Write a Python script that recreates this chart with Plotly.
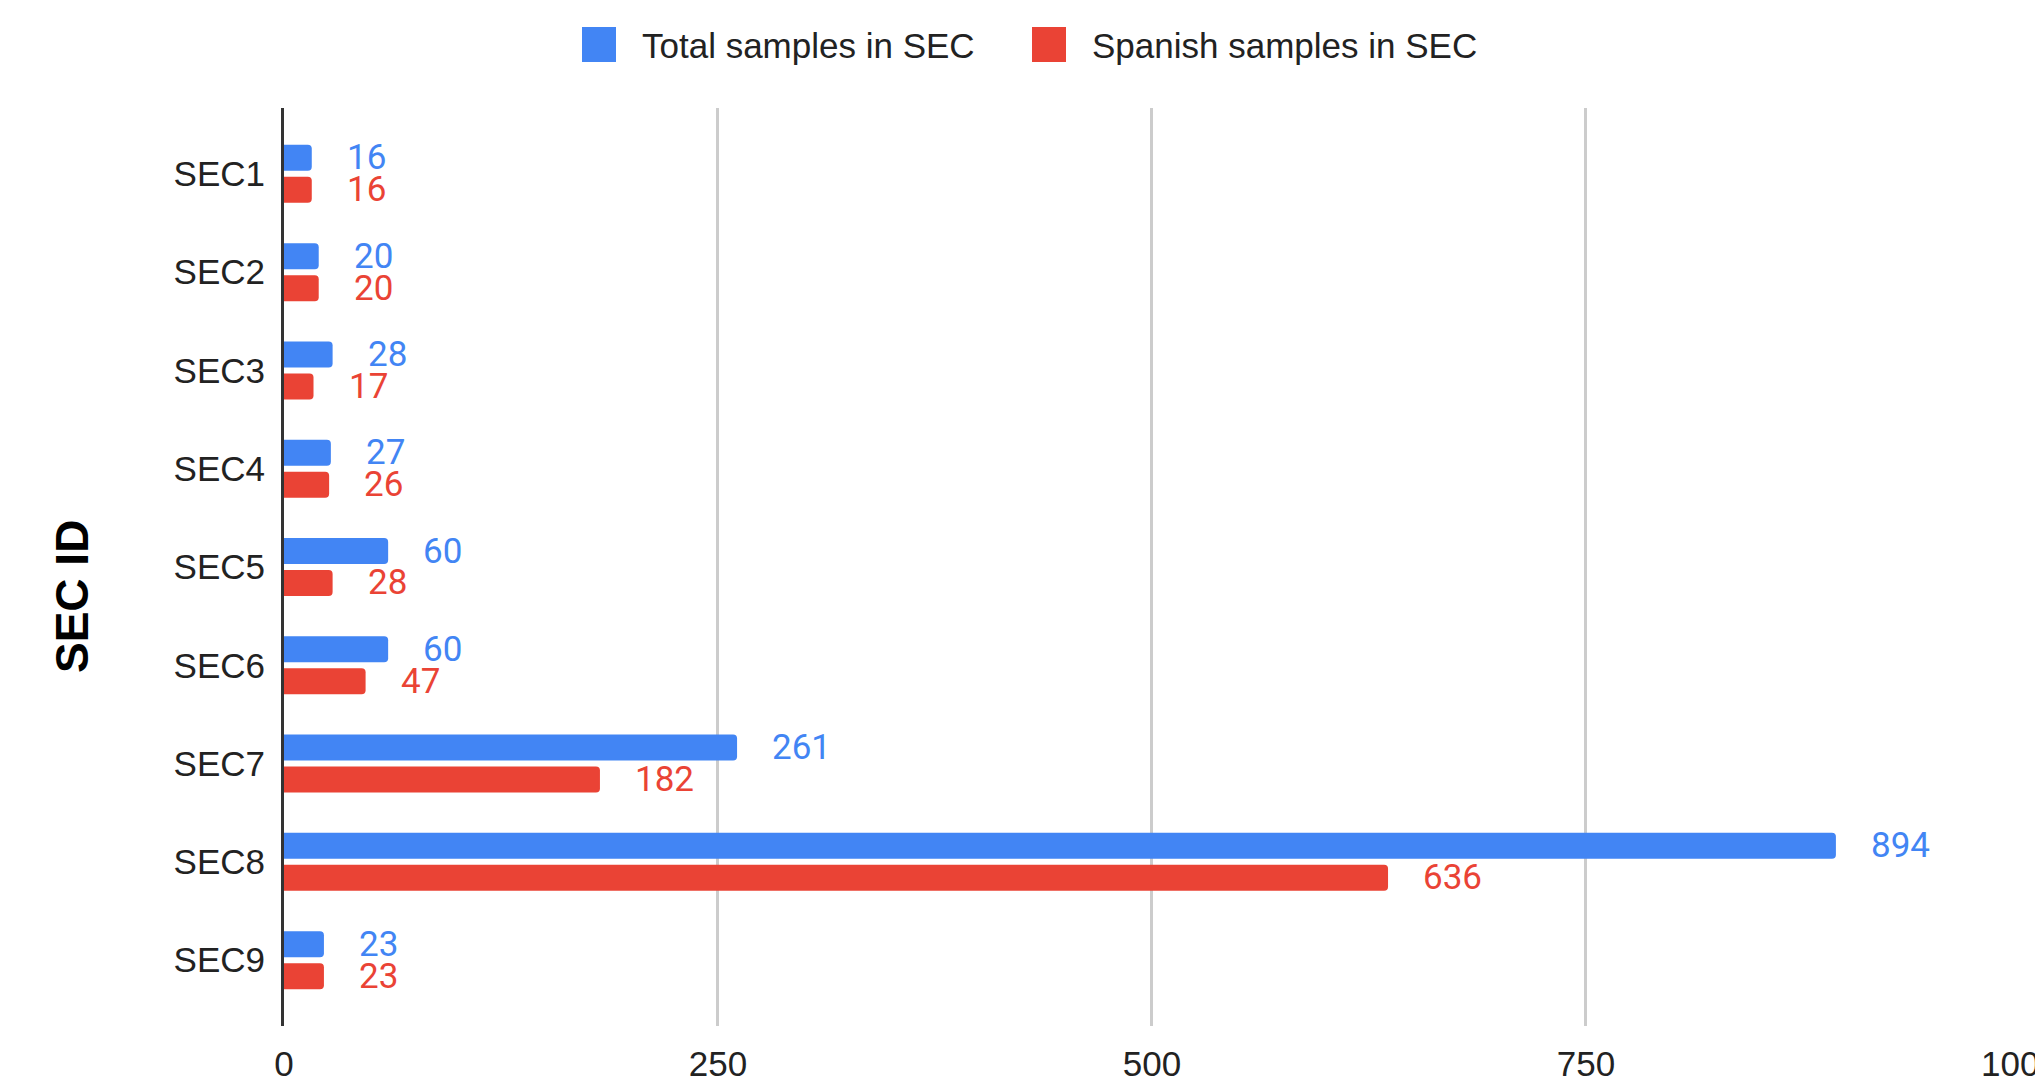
import plotly.graph_objects as go

# Sample counts per SEC
sec_ids = ["SEC1", "SEC2", "SEC3", "SEC4", "SEC5", "SEC6", "SEC7", "SEC8", "SEC9"]
total_samples = [16, 20, 28, 27, 60, 60, 261, 894, 23]
spanish_samples = [16, 20, 17, 26, 28, 47, 182, 636, 23]
x_ticks = [0, 250, 500, 750, 1000]

series_names = ["Total samples in SEC", "Spanish samples in SEC"]
BLUE = "#4285F4"
RED = "#EA4335"

# Canvas and plot-area geometry (pixels)
WIDTH, HEIGHT = 2035, 1088
L, R, T, B = 284, 2020, 108, 1026
PW, PH = R - L, B - T


def px_x(px):
    return (px - L) / PW


def px_y(py):
    return (B - py) / PH


fig = go.Figure()
fig.add_trace(go.Bar(
    y=sec_ids, x=total_samples, orientation="h", name=series_names[0],
    marker=dict(color=BLUE, cornerradius=4, line=dict(width=0)),
    hoverinfo="x+y",
))
fig.add_trace(go.Bar(
    y=sec_ids, x=spanish_samples, orientation="h", name=series_names[1],
    marker=dict(color=RED, cornerradius=4, line=dict(width=0)),
    hoverinfo="x+y",
))

# Value labels placed just past the end of each bar
cat_step = PH / 9.34
shift = 0.3255 / 2 * cat_step
annotations = []
for cat, tv, sv in zip(sec_ids, total_samples, spanish_samples):
    for val, col, ys in ((tv, BLUE, shift), (sv, RED, -shift)):
        annotations.append(dict(
            x=val, y=cat, xref="x", yref="y", text=str(val),
            showarrow=False, xanchor="left", yanchor="middle",
            xshift=33, yshift=ys,
            font=dict(family="Roboto", size=35, color=col),
        ))

# Axis title
annotations.append(dict(
    x=px_x(72), y=px_y(597), xref="paper", yref="paper",
    text="<b>SEC ID</b>", textangle=-90, showarrow=False,
    xanchor="center", yanchor="middle",
    font=dict(family="Liberation Sans", size=46, color="#000000"),
))

# Legend entries
shapes = []
legend_items = [(582, 616, 640, series_names[0], BLUE),
                (1032, 1066, 1090, series_names[1], RED)]
for x0, x1, tx, label, col in legend_items:
    shapes.append(dict(
        type="rect", xref="paper", yref="paper",
        x0=px_x(x0), x1=px_x(x1), y0=px_y(62), y1=px_y(27),
        fillcolor=col, line=dict(width=0),
    ))
    annotations.append(dict(
        x=px_x(tx), y=px_y(45), xref="paper", yref="paper",
        text=label, showarrow=False, xanchor="left", yanchor="middle",
        font=dict(family="Liberation Sans", size=35, color="#222222"),
    ))

fig.update_layout(
    width=WIDTH, height=HEIGHT,
    margin=dict(l=L, r=WIDTH - R, t=T, b=HEIGHT - B, pad=0, autoexpand=False),
    paper_bgcolor="white", plot_bgcolor="white",
    barmode="group", bargap=0.349, bargroupgap=0.187,
    showlegend=False,
    annotations=annotations, shapes=shapes,
    font=dict(family="Liberation Sans", color="#222222"),
)

fig.update_xaxes(
    range=[0, 1000.05], tickvals=x_ticks, ticktext=[str(v) for v in x_ticks],
    showgrid=True, gridcolor="#cccccc", gridwidth=3,
    zeroline=False, showline=False, ticks="",
    automargin=False, ticklabeloverflow="allow",
    ticklabelstandoff=14,
    tickfont=dict(family="Liberation Sans", size=35, color="#222222"),
)
fig.update_yaxes(
    type="category", categoryorder="array", categoryarray=sec_ids,
    range=[8.67, -0.67],
    showgrid=False, zeroline=False, automargin=False,
    showline=True, linecolor="#333333", linewidth=3,
    ticks="", ticklabelstandoff=9,
    tickfont=dict(family="Liberation Sans", size=35, color="#222222"),
)

fig.write_html("out.html")
